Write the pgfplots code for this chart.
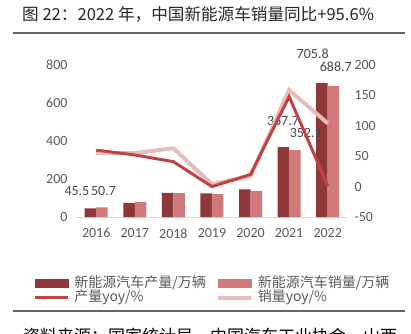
\documentclass[border=0pt]{standalone}
\usepackage{pgfplots}
\pgfplotsset{compat=1.18}
\usepackage{fontspec}
\setmainfont{Carlito}
\newfontfamily\cjk{Noto Sans CJK SC}
\definecolor{darkbar}{RGB}{142,56,58}
\definecolor{lightbar}{RGB}{208,122,124}
\definecolor{darkline}{RGB}{192,66,66}
\definecolor{lightline}{RGB}{232,188,188}
\definecolor{ticktext}{RGB}{89,89,89}
\definecolor{axisgray}{RGB}{217,217,217}
\begin{document}
\begin{tikzpicture}[x=1pt,y=1pt]
\useasboundingbox (0,0) rectangle (411,333);
\node[anchor=west, inner sep=0, font=\cjk\fontsize{16.6}{16.6}\selectfont, text=black!85] at (22,318.5) {图 22：2022 年，中国新能源车销量同比+95.6\%};
\draw[line width=1.2pt, black!60] (13,300) -- (405,300);
\draw[line width=1.2pt, black!60] (13,22) -- (405,22);
\node[anchor=base west, inner sep=0, font=\cjk\fontsize{17}{17}\selectfont] at (23,-9) {资料来源：国家统计局、中国汽车工业协会、山西};

\begin{axis}[
  at={(75pt,116pt)}, anchor=south west, scale only axis,
  width=272pt, height=152pt,
  xmin=-0.55, xmax=6.5, ymin=0, ymax=800,
  axis x line*=bottom, axis y line*=left,
  x axis line style={draw=axisgray, line width=1pt, -},
  y axis line style={draw=none},
  major tick length=0pt,
  xtick={0,...,6},
  xticklabel={\pgfmathparse{int(2016+\tick)}\pgfmathresult},
  ytick={0,200,400,600,800},
  yticklabel={\pgfmathprintnumber[assume math mode=true]{\tick}},
  ticklabel style={font=\fontsize{14}{14}\selectfont, text=ticktext},
  xticklabel style={anchor=north, yshift=-8pt},
  yticklabel style={xshift=-4pt},
  clip=false,
]
\addplot[ybar, bar width=11.5pt, bar shift=-5.75pt, fill=darkbar, draw=none] coordinates {(0,45.5) (1,74) (2,127) (3,124.2) (4,145) (5,367.7) (6,705.8)};
\addplot[ybar, bar width=11.5pt, bar shift=5.75pt, fill=lightbar, draw=none] coordinates {(0,50.7) (1,79) (2,125.6) (3,120.6) (4,137) (5,352.1) (6,688.7)};
\begin{scope}[every node/.style={font=\fontsize{14}{14}\selectfont, text=ticktext!80!black, inner sep=0}]
\node at (axis cs:-0.50,137) {45.5};
\node at (axis cs:0.19,137) {50.7};
\node at (axis cs:4.84,505) {367.7};
\node at (axis cs:5.43,442) {352.1};
\node at (axis cs:5.61,858) {705.8};
\node at (axis cs:6.21,789) {688.7};
\end{scope}
\end{axis}

\begin{axis}[
  at={(75pt,116pt)}, anchor=south west, scale only axis,
  width=272pt, height=152pt,
  xmin=-0.55, xmax=6.5, ymin=-50, ymax=200,
  axis x line=none, axis y line*=right,
  y axis line style={draw=none},
  major tick length=0pt,
  ytick={-50,0,50,100,150,200},
  yticklabel={\pgfmathprintnumber[assume math mode=true]{\tick}},
  ticklabel style={font=\fontsize{14}{14}\selectfont, text=ticktext},
  yticklabel style={xshift=4pt},
  clip=false,
  legend columns=2,
  legend style={at={(-0.154,-0.388)}, anchor=north west, draw=none, fill=none,
    inner sep=0pt, row sep=0pt,
    font=\cjk\fontsize{14}{14}\selectfont, text=ticktext,
    nodes={inner sep=0pt, text height=11pt, text depth=3.5pt},
    /tikz/every odd column/.append style={column sep=5pt}},
  legend cell align=left,
]
\addlegendimage{legend image code/.code={\fill[darkbar] (0pt,-4pt) rectangle (33pt,4pt);}}
\addlegendentry[text width=142pt]{新能源汽车产量/万辆}
\addlegendimage{legend image code/.code={\fill[lightbar] (0pt,-4pt) rectangle (33pt,4pt);}}
\addlegendentry{新能源汽车销量/万辆}
\addlegendimage{legend image code/.code={\draw[darkline, line width=3pt] (0pt,0pt) -- (33pt,0pt);}}
\addlegendentry[text width=142pt]{产量yoy/\%}
\addlegendimage{legend image code/.code={\draw[lightline, line width=3.5pt] (0pt,0pt) -- (33pt,0pt);}}
\addlegendentry{销量yoy/\%}
\addplot[lightline, line width=4pt, forget plot] coordinates {(0,55) (1,55) (2,63) (3,4) (4,17) (5,159) (6,104)};
\addplot[darkline, line width=3pt, forget plot] coordinates {(0,60) (1,52) (2,41) (3,0) (4,20) (5,148) (6,1.5)};
\end{axis}
\end{tikzpicture}
\end{document}
